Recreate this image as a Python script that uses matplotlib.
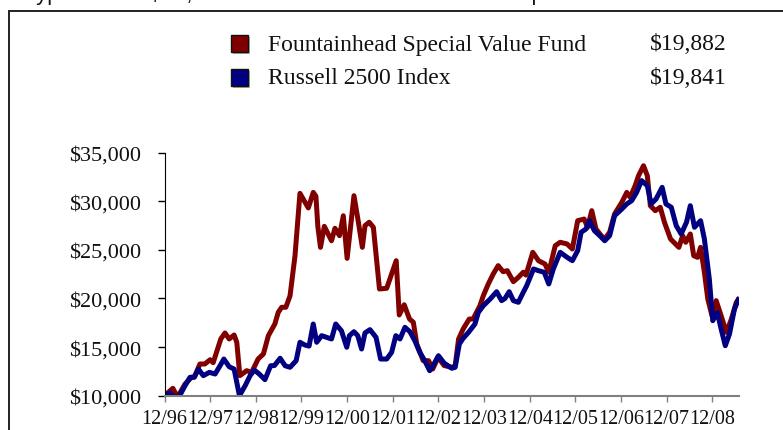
import matplotlib
matplotlib.use("Agg")
from matplotlib import pyplot as plt
from matplotlib.patches import Rectangle

W, H = 783, 431
fig = plt.figure(figsize=(W / 100, H / 100), dpi=100)

# months since 12/96
fund_months = [0, 2.2, 3.4, 5.4, 7.1, 7.9, 9.3, 10.6, 12, 12.8, 14.8, 15.9, 17, 18.3, 19, 19.8,
               21.6, 22.9, 24.6, 26, 27.3, 29, 29.9, 30.8, 31.9, 33, 34.3, 35.6, 37.8, 39.1,
               39.8, 40.3, 41, 42, 43.9, 44.8, 46, 47, 48, 49.8, 50.9, 52, 52.7, 53.8, 54.9,
               56.5, 58.4, 60.9, 61.7, 63, 64.4, 65.4, 66.3, 68, 69.4, 70.5, 71.9, 73.5, 75.5,
               76.4, 77.3, 78.5, 80.1, 81.1, 82.9, 83.8, 85.1, 86.4, 87.7, 89, 90.1, 91.7, 93,
               94.3, 95, 96.8, 98.3, 100, 101, 102.7, 104, 105.8, 107.2, 108.6, 110.3, 111.2,
               112.3, 113.4, 114.8, 115.7, 117, 118.3, 120.2, 121.5, 122.4, 123.7, 124.6, 125.9,
               126.9, 127.7, 129, 130.3, 131.4, 133, 135.2, 136.2, 137, 138.2, 139.1, 140.1,
               140.9, 141.9, 142.8, 143.9, 145, 146.3, 147.7, 149, 150.3, 150.8]
fund_values = [10000, 10760, 9850, 11200, 11890, 11950, 13260, 13260, 13700, 13400, 15830, 16450,
               15830, 16240, 15490, 12060, 12570, 12400, 13770, 14290, 16170, 17370, 18570, 19090,
               19090, 20280, 24390, 30800, 29300, 30900, 30500, 27400, 25250, 27410, 25930, 27210,
               26450, 28500, 24120, 30560, 27990, 25250, 27480, 27830, 27310, 20970, 21040, 23880,
               18300, 19350, 17880, 17550, 15320, 13600, 13600, 12740, 13950, 13100, 12920, 13080,
               15830, 16860, 17880, 17880, 19250, 20280, 21480, 22510, 23370, 22750, 22850, 21720,
               22170, 22690, 22400, 24740, 23880, 23540, 22690, 25420, 25770, 25600, 25080, 27990,
               28160, 27310, 29020, 27140, 26450, 26110, 26800, 28680, 29880, 30900, 30390, 31590,
               32620, 33640, 32620, 29530, 29020, 29370, 27830, 26110, 25250, 26450, 25770, 26620,
               24390, 24220, 25250, 22690, 19940, 18220, 19770, 18220, 16510, 17880, 19600, 19882]

index_months = [0, 1.4, 2.5, 3.9, 5.4, 6.7, 7.8, 8.9, 10.2, 11.8, 13.3, 14.6, 15.6, 17, 18.3,
                19.7, 21.2, 22.5, 23.6, 24.9, 26.4, 27.9, 28.9, 30.4, 31.7, 33, 34.6, 35.6, 36.9,
                38, 39.1, 40, 41.3, 42.6, 43.9, 45, 46.5, 47.9, 48.6, 49.8, 50.8, 51.8, 52.7, 54,
                55.6, 56.8, 58.4, 59.7, 60.8, 61.9, 63.2, 64.5, 65.8, 67.1, 68.4, 69.7, 70.6, 72,
                73.5, 75.5, 76.4, 77.5, 78.5, 79.9, 81.6, 82.5, 83.8, 85.6, 87.3, 88.6, 89.5,
                90.6, 91.7, 93, 94.3, 95.2, 97, 98.3, 99.8, 101, 102.2, 104, 105.8, 107.2, 108.6,
                109.5, 110.8, 111.7, 113, 114.4, 115.7, 117, 118.3, 120.2, 121.5, 122.8, 124.1,
                125.4, 126.9, 127.9, 129.2, 130.8, 131.8, 133.2, 134.5, 135.8, 137.2, 138.2,
                139.3, 140.9, 141.9, 143.2, 144.1, 145.3, 146.3, 147.4, 148.5, 149.8, 150.8]
index_values = [10000, 10280, 9840, 9940, 11030, 11890, 11890, 12740, 12060, 12400, 12230, 13080,
                13770, 12980, 12740, 10000, 11030, 12060, 12640, 12230, 11650, 13080, 13100, 13850,
                13080, 12920, 13600, 15490, 15210, 15100, 17370, 15490, 16170, 16000, 15830, 17370,
                16680, 14980, 16170, 16580, 16170, 14800, 16450, 16790, 16000, 13770, 13770, 14460,
                16170, 15830, 17030, 16580, 15650, 14460, 13600, 12570, 13100, 14110, 13350, 12820,
                12920, 15320, 15900, 16510, 17370, 18570, 19250, 19940, 20690, 19770, 20000, 20690,
                19770, 19600, 20630, 21310, 23030, 22850, 22690, 21480, 23030, 24740, 24230, 23880,
                24910, 26800, 27140, 27990, 26960, 26450, 25930, 26450, 28500, 29190, 29710, 30050,
                30910, 32110, 31590, 29710, 30220, 31420, 29710, 29370, 27480, 26620, 27830, 29530,
                27310, 27990, 26110, 21990, 17710, 18570, 16860, 15140, 16340, 18910, 19841]

tick_months = [0, 12, 24, 36, 48, 60, 72, 84, 96, 108, 120, 132, 144]
tick_labels = ["12/96", "12/97", "12/98", "12/99", "12/00", "12/01", "12/02",
               "12/03", "12/04", "12/05", "12/06", "12/07", "12/08"]
y_ticks = [10000, 15000, 20000, 25000, 30000, 35000]

names = ["Fountainhead Special Value Fund", "Russell 2500 Index"]
ending = ["$19,882", "$19,841"]
RED = "#800000"
BLUE = "#000080"

SERIF = "Liberation Serif"

# outer frame (runs off the right and bottom edges)
fig.patches.append(Rectangle((9 / W, -0.2), 1.2, 1.2 - 11.7 / H, transform=fig.transFigure,
                             fill=False, edgecolor="#222222", linewidth=1.4))
# title, mostly cut off at the top
fig.text(20 / W, 1.0, "Hypothetical $10,000 Investment in Fountainhead Special Value Fund",
         fontsize=16, family="Liberation Sans", va="baseline", ha="left", color="#111111")

ax = fig.add_axes([164.5 / W, 1 - 396.7 / H, (739 - 164.5) / W, (396.7 - 153.5) / H])
ax.plot(fund_months, fund_values, color=RED, linewidth=3.6, solid_joinstyle="round")
ax.plot(index_months, index_values, color=BLUE, linewidth=3.6, solid_joinstyle="round")
ax.set_xlim(0, 151)
ax.set_ylim(10000, 35000)
ax.set_yticks(y_ticks)
ax.set_yticklabels(["${:,}".format(v) for v in y_ticks])
ax.set_xticks(tick_months)
ax.set_xticklabels(tick_labels)
for s in ["top", "right"]:
    ax.spines[s].set_visible(False)
ax.spines["left"].set_color("black")
ax.spines["bottom"].set_color("#808080")
ax.spines["bottom"].set_linewidth(1.5)
ax.tick_params(axis="y", direction="out", length=5, width=1, color="black", pad=12,
               labelsize=16, labelcolor="#111111")
ax.tick_params(axis="x", direction="out", length=4.5, width=1, color="#808080", pad=5,
               labelsize=14.5, labelcolor="#111111")
for lab in ax.get_xticklabels() + ax.get_yticklabels():
    lab.set_family(SERIF)

# legend
rows_y = [45, 79]
colors = [RED, BLUE]
for i in range(2):
    cy = rows_y[i]
    fig.patches.append(Rectangle((233 / W, 1 - (cy + 10) / H), 17 / W, 17 / H,
                                 transform=fig.transFigure, facecolor="#b0b0b0",
                                 edgecolor="none"))
    fig.patches.append(Rectangle((231 / W, 1 - (cy + 8) / H), 17 / W, 17 / H,
                                 transform=fig.transFigure, facecolor=colors[i],
                                 edgecolor="#111111", linewidth=1))
    fig.text(268 / W, 1 - cy / H, names[i], fontsize=17, family=SERIF, va="center",
             ha="left", color="#111111")
    fig.text(727 / W, 1 - cy / H, ending[i], fontsize=17, family=SERIF, va="center",
             ha="right", color="#111111")

plt.savefig("out.png", dpi=100)
